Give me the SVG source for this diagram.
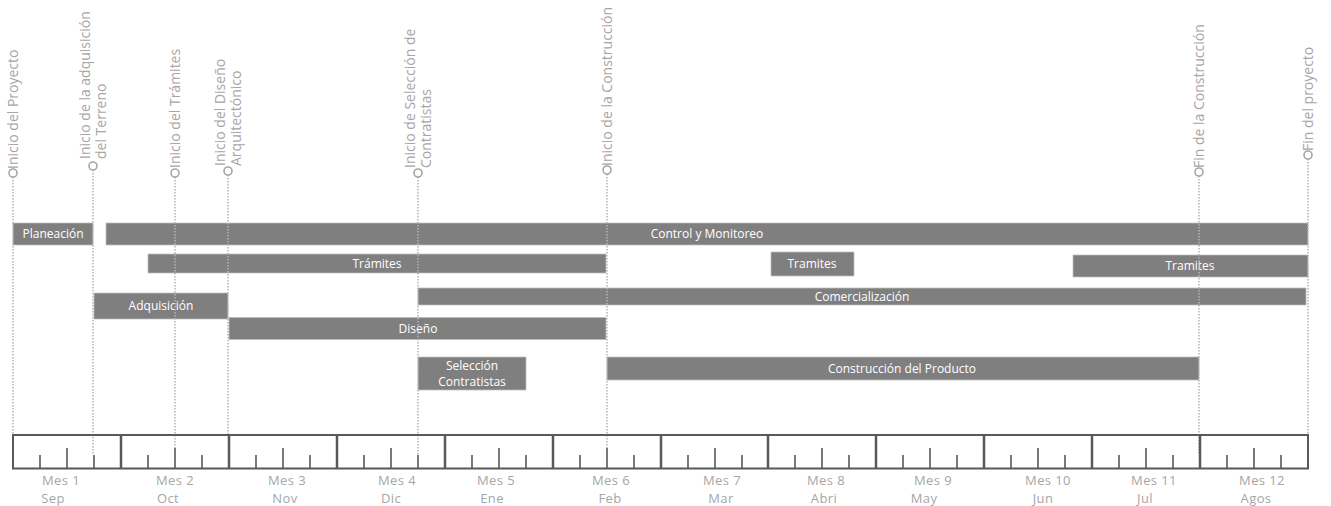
<svg xmlns="http://www.w3.org/2000/svg" width="1331" height="506" viewBox="0 0 1331 506">
<style>
.bar{fill:#7f7f7f;stroke:#bfbfbf;stroke-width:0.75}
.bt{font-family:"Open Sans","Liberation Sans",sans-serif;font-size:12px;fill:#ffffff;text-anchor:middle}
.ms{font-family:"Open Sans","Liberation Sans",sans-serif;font-size:14px;fill:#a6a6a6}
.lbl{font-family:"Open Sans","Liberation Sans",sans-serif;font-size:13px;letter-spacing:0.4px;fill:#a6a6a6;text-anchor:middle}
.dot{stroke:#b4b4b4;stroke-width:1.5;stroke-dasharray:1.5 1.5;fill:none}
.mk{fill:#ffffff;stroke:#a6a6a6;stroke-width:1.6}
.tl{fill:none;stroke:#595959;stroke-width:2}
.dv{fill:none;stroke:#595959;stroke-width:2.5}
.tk{stroke:#595959;stroke-width:1.6}
</style>
<rect width="1331" height="506" fill="#ffffff"/>

<!-- bars -->
<g id="planeacion"><rect class="bar" x="13" y="223" width="80" height="22"/><text class="bt" x="53" y="238">Planeación</text></g>
<g id="control"><rect class="bar" x="106" y="223" width="1202" height="22"/><text class="bt" x="707" y="238">Control y Monitoreo</text></g>
<g id="tramites1"><rect class="bar" x="148" y="254" width="458" height="19"/><text class="bt" x="377" y="268">Trámites</text></g>
<g id="tramites2"><rect class="bar" x="771" y="252" width="83" height="24"/><text class="bt" x="812" y="268">Tramites</text></g>
<g id="tramites3"><rect class="bar" x="1073" y="255" width="235" height="22"/><text class="bt" x="1190" y="270">Tramites</text></g>
<g id="comercializacion"><rect class="bar" x="418" y="288" width="888" height="17"/><text class="bt" x="862" y="301">Comercialización</text></g>
<g id="adquisicion"><rect class="bar" x="94" y="293" width="134" height="26"/><text class="bt" x="161" y="310">Adquisición</text></g>
<g id="diseno"><rect class="bar" x="229" y="317.5" width="377" height="22"/><text class="bt" x="418" y="333">Diseño</text></g>
<g id="seleccion"><rect class="bar" x="418" y="357" width="108" height="33"/><text class="bt" x="472" y="370">Selección</text><text class="bt" x="472" y="386">Contratistas</text></g>
<g id="construccion"><rect class="bar" x="607" y="357" width="592" height="23"/><text class="bt" x="902" y="373">Construcción del Producto</text></g>

<!-- connectors: milestone guide lines -->
<g id="connectors">
<line class="dot" x1="13" y1="177" x2="13" y2="434"/>
<line class="dot" x1="93" y1="170" x2="93" y2="455"/>
<line class="dot" x1="175" y1="177" x2="175" y2="448"/>
<line class="dot" x1="228" y1="175" x2="228" y2="434"/>
<line class="dot" x1="418" y1="177" x2="418" y2="455"/>
<line class="dot" x1="607" y1="174" x2="607" y2="448"/>
<line class="dot" x1="1199" y1="176" x2="1199" y2="455"/>
<line class="dot" x1="1308" y1="159" x2="1308" y2="434"/>
</g>

<!-- milestones -->
<g id="m-inicio-proyecto"><circle class="mk" cx="13" cy="173" r="4"/><text class="ms" transform="translate(13,169) rotate(-90)" x="0" y="5">Inicio del Proyecto</text></g>
<g id="m-adquisicion"><circle class="mk" cx="93" cy="166" r="4"/><text class="ms" transform="translate(93,159) rotate(-90)"><tspan x="0" y="-3">Inicio de la adquisición</tspan><tspan x="0" y="13">del Terreno</tspan></text></g>
<g id="m-tramites"><circle class="mk" cx="175" cy="173" r="4"/><text class="ms" transform="translate(175,168) rotate(-90)" x="0" y="5">Inicio del Trámites</text></g>
<g id="m-diseno"><circle class="mk" cx="228" cy="171" r="4"/><text class="ms" transform="translate(228,166) rotate(-90)"><tspan x="0" y="-3">Inicio del Diseño</tspan><tspan x="0" y="13">Arquitectónico</tspan></text></g>
<g id="m-seleccion"><circle class="mk" cx="418" cy="173" r="4"/><text class="ms" transform="translate(418,168) rotate(-90)"><tspan x="0" y="-3">Inicio de Selección de</tspan><tspan x="0" y="13">Contratistas</tspan></text></g>
<g id="m-construccion"><circle class="mk" cx="607" cy="170" r="4"/><text class="ms" transform="translate(607,166) rotate(-90)" x="0" y="5">Inicio de la Construcción</text></g>
<g id="m-fin-construccion"><circle class="mk" cx="1199" cy="172" r="4"/><text class="ms" transform="translate(1199,168) rotate(-90)" x="0" y="5">Fin de la Construcción</text></g>
<g id="m-fin-proyecto"><circle class="mk" cx="1308" cy="155" r="4"/><text class="ms" transform="translate(1308,151) rotate(-90)" x="0" y="5">Fin del proyecto</text></g>

<!-- timeline -->
<g id="timeline">
<rect class="tl" x="13" y="435" width="1295" height="33.5"/>
<path class="dv" d="M121 435V468.5M229 435V468.5M337 435V468.5M445 435V468.5M553 435V468.5M661 435V468.5M768 435V468.5M876 435V468.5M984 435V468.5M1092 435V468.5M1200 435V468.5"/>
<path class="tk" d="M40 455V468M67 448V468M94 455V468
M148 455V468M175 448V468M202 455V468
M256 455V468M283 448V468M310 455V468
M364 455V468M391 448V468M418 455V468
M472 455V468M499 448V468M526 455V468
M580 455V468M607 448V468M634 455V468
M688 455V468M715 448V468M742 455V468
M795 455V468M822 448V468M849 455V468
M903 455V468M930 448V468M957 455V468
M1011 455V468M1038 448V468M1065 455V468
M1119 455V468M1146 448V468M1173 455V468
M1227 455V468M1254 448V468M1281 455V468"/>
</g>
<g id="month-labels">
<text class="lbl" x="61" y="485">Mes 1</text><text class="lbl" x="53" y="503">Sep</text>
<text class="lbl" x="175" y="485">Mes 2</text><text class="lbl" x="168" y="503">Oct</text>
<text class="lbl" x="287" y="485">Mes 3</text><text class="lbl" x="285" y="503">Nov</text>
<text class="lbl" x="397" y="485">Mes 4</text><text class="lbl" x="391" y="503">Dic</text>
<text class="lbl" x="496" y="485">Mes 5</text><text class="lbl" x="492" y="503">Ene</text>
<text class="lbl" x="611" y="485">Mes 6</text><text class="lbl" x="610" y="503">Feb</text>
<text class="lbl" x="722" y="485">Mes 7</text><text class="lbl" x="721" y="503">Mar</text>
<text class="lbl" x="826" y="485">Mes 8</text><text class="lbl" x="824" y="503">Abri</text>
<text class="lbl" x="933" y="485">Mes 9</text><text class="lbl" x="924" y="503">May</text>
<text class="lbl" x="1048" y="485">Mes 10</text><text class="lbl" x="1043" y="503">Jun</text>
<text class="lbl" x="1154" y="485">Mes 11</text><text class="lbl" x="1145" y="503">Jul</text>
<text class="lbl" x="1262" y="485">Mes 12</text><text class="lbl" x="1256" y="503">Agos</text>
</g>
</svg>
